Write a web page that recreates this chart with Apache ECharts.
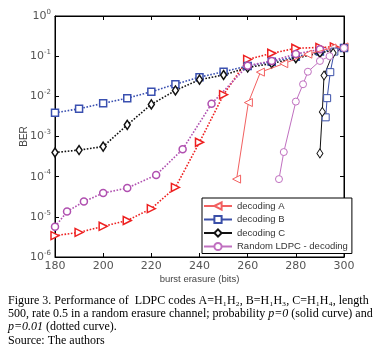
<!DOCTYPE html>
<html>
<head>
<meta charset="utf-8">
<script src="https://cdn.jsdelivr.net/npm/echarts@6/dist/echarts.min.js"></script>
<style>
    html, body { margin: 0; padding: 0; background: #fff; }
    #chart { width: 387px; height: 348px; }
</style>
</head>
<body>
<div id="chart"></div>
<script>
// p = 0.01 (dotted), same burst lengths for B and C
const xDotted = [180, 190, 200, 210, 220, 230, 240, 250, 260, 270, 280, 290, 300];
const dottedB = [3.9e-3, 4.9e-3, 6.7e-3, 9e-3, 1.3e-2, 2.0e-2, 3.0e-2, 4.1e-2, 5.7e-2, 7.3e-2, 9.7e-2, 0.13, 0.16];
const dottedC = [4e-4, 4.6e-4, 5.6e-4, 1.95e-3, 6.3e-3, 1.4e-2, 2.6e-2, 3.4e-2, 5.2e-2, 6.6e-2, 8.9e-2, 0.12, 0.16];
const xDottedA = [180, 190, 200, 210, 220, 230, 240, 250, 260, 270, 280, 290, 296];
const dottedA = [3.4e-6, 4.1e-6, 5.8e-6, 8.1e-6, 1.6e-5, 5.4e-5, 7.2e-4, 1.1e-2, 8.3e-2, 0.118, 0.157, 0.165, 0.17];
const xDottedR = [180, 185, 192, 200, 210, 222, 233, 245, 260, 270, 280, 290, 300];
const dottedR = [5.7e-6, 1.35e-5, 2.4e-5, 3.9e-5, 5.2e-5, 1.1e-4, 4.8e-4, 6.5e-3, 5.8e-2, 7.6e-2, 0.113, 0.148, 0.16];

// p = 0 (solid)
const xSolidA = [255.4, 260.3, 265.3, 275, 285, 295, 300];
const solidA = [8.7e-5, 7e-3, 4e-2, 6.5e-2, 0.112, 0.16, 0.17];
const xSolidB = [292.4, 293, 294.3, 296, 300];
const solidB = [3e-3, 9e-3, 4e-2, 0.13, 0.16];
const xSolidC = [290, 291, 291.7, 295.5, 300];
const solidC = [3.8e-4, 4.1e-3, 3.3e-2, 0.12, 0.16];
const xSolidR = [273, 275, 280, 283, 285, 290, 294, 300];
const solidR = [8.7e-5, 4.1e-4, 7.4e-3, 2.0e-2, 4.1e-2, 7.6e-2, 0.1, 0.16];

const legendNames = ['decoding A', 'decoding B', 'decoding C', 'Random LDPC - decoding'];

function pairs(xs, ys) {
    return xs.map((x, i) => [x, ys[i]]);
}

function line(name, xs, ys, color, symbol, rotate, dotted) {
    let size = 8;
    if (symbol === 'rect') size = 7;
    if (symbol === 'diamond') size = [6, 9];
    if (symbol === 'circle') size = 7;
    return {
        name: name,
        type: 'line',
        data: pairs(xs, ys),
        symbol: symbol,
        symbolSize: size,
        symbolRotate: rotate,
        showAllSymbol: true,
        z: dotted ? 2 : 3,
        lineStyle: {color: color, width: dotted ? 1.6 : 1, type: dotted ? 'dotted' : 'solid'},
        itemStyle: {color: '#fff', borderColor: color, borderWidth: dotted ? 1.5 : 1},
        emphasis: {disabled: true}
    };
}

const chart = echarts.init(document.getElementById('chart'));

const tickFont = {fontFamily: 'DejaVu Sans', fontSize: 11, color: '#555'};
const serif = '12px "Liberation Serif", "Times New Roman", serif';

const option = {
    animation: false,
    backgroundColor: '#fff',
    grid: {left: 55, right: 43, top: 16, bottom: 91, show: true, borderColor: '#000', borderWidth: 1},
    legend: {
        data: legendNames,
        orient: 'vertical',
        left: 202,
        top: 198,
        padding: [3, 4, 2, 1],
        itemGap: 3.5,
        itemWidth: 28,
        itemHeight: 9,
        backgroundColor: '#fff',
        borderColor: '#000',
        borderWidth: 1,
        borderRadius: 0,
        selectedMode: false,
        textStyle: {fontFamily: 'Liberation Sans', fontSize: 9.5, color: '#333'}
    },
    xAxis: [{
        type: 'value',
        min: 180,
        max: 300,
        interval: 20,
        name: 'burst erasure (bits)',
        nameLocation: 'middle',
        nameMoveOverlap: false,
        nameGap: 17,
        nameTextStyle: {fontFamily: 'Liberation Sans', fontSize: 9.5, color: '#444'},
        axisLine: {lineStyle: {color: '#000'}},
        axisTick: {inside: true, length: 4, lineStyle: {color: '#000'}},
        axisLabel: Object.assign({margin: 4}, tickFont),
        splitLine: {show: false}
    }, {
        type: 'value',
        position: 'top',
        min: 180,
        max: 300,
        interval: 20,
        axisLine: {lineStyle: {color: '#000'}},
        axisTick: {inside: true, length: 4, lineStyle: {color: '#000'}},
        axisLabel: {show: false},
        splitLine: {show: false}
    }],
    yAxis: [{
        type: 'log',
        logBase: 10,
        min: 1e-6,
        max: 1,
        splitNumber: 6,
        name: 'BER',
        nameLocation: 'middle',
        nameMoveOverlap: false,
        nameGap: 26,
        nameTextStyle: {fontFamily: 'Liberation Sans', fontSize: 10, color: '#444'},
        axisLine: {lineStyle: {color: '#000'}},
        axisTick: {inside: true, length: 4, lineStyle: {color: '#000'}},
        axisLabel: Object.assign({
            margin: 4,
            formatter: function (v) {
                return '10{s|' + Math.round(Math.log10(v)) + '}';
            },
            rich: {s: {fontFamily: 'DejaVu Sans', fontSize: 7, color: '#555', verticalAlign: 'top', padding: [0, 0, 8, 0]}}
        }, tickFont),
        splitLine: {show: false}
    }, {
        type: 'log',
        logBase: 10,
        min: 1e-6,
        max: 1,
        splitNumber: 6,
        position: 'right',
        axisLine: {lineStyle: {color: '#000'}},
        axisTick: {inside: true, length: 4, lineStyle: {color: '#000'}},
        axisLabel: {show: false},
        splitLine: {show: false}
    }],
    series: [
        line('decoding A', xSolidA, solidA, '#f26060', 'triangle', 90, false),
        line('decoding B', xSolidB, solidB, '#3a4fa8', 'rect', 0, false),
        line('decoding C', xSolidC, solidC, '#111', 'diamond', 0, false),
        line('Random LDPC - decoding', xSolidR, solidR, '#c070c0', 'circle', 0, false),
        line('A dotted', xDottedA, dottedA, '#ee2020', 'triangle', -90, true),
        line('B dotted', xDotted, dottedB, '#3a50b0', 'rect', 0, true),
        line('C dotted', xDotted, dottedC, '#111', 'diamond', 0, true),
        line('Random dotted', xDottedR, dottedR, '#b050b0', 'circle', 0, true)
    ],
    graphic: [
        {type: 'text', left: 8, top: 295, style: {text: 'Figure 3. Performance of  LDPC codes A=H\u2081H\u2082, B=H\u2081H\u2083, C=H\u2081H\u2084, length', font: serif, fill: '#000'}},
        {type: 'text', left: 8, top: 308, style: {text: '500, rate 0.5 in a random erasure channel; probability {i|p=0} (solid curve) and', font: serif, fill: '#000', rich: {i: {fontStyle: 'italic', fontFamily: 'Liberation Serif', fontSize: 12}}}},
        {type: 'text', left: 8, top: 321, style: {text: '{i|p=0.01} (dotted curve).', font: serif, fill: '#000', rich: {i: {fontStyle: 'italic', fontFamily: 'Liberation Serif', fontSize: 12}}}},
        {type: 'text', left: 8, top: 335, style: {text: 'Source: The authors', font: serif, fill: '#000'}}
    ]
};

chart.setOption(option);
window.addEventListener('resize', function () {
    chart.resize();
});
</script>
</body>
</html>
